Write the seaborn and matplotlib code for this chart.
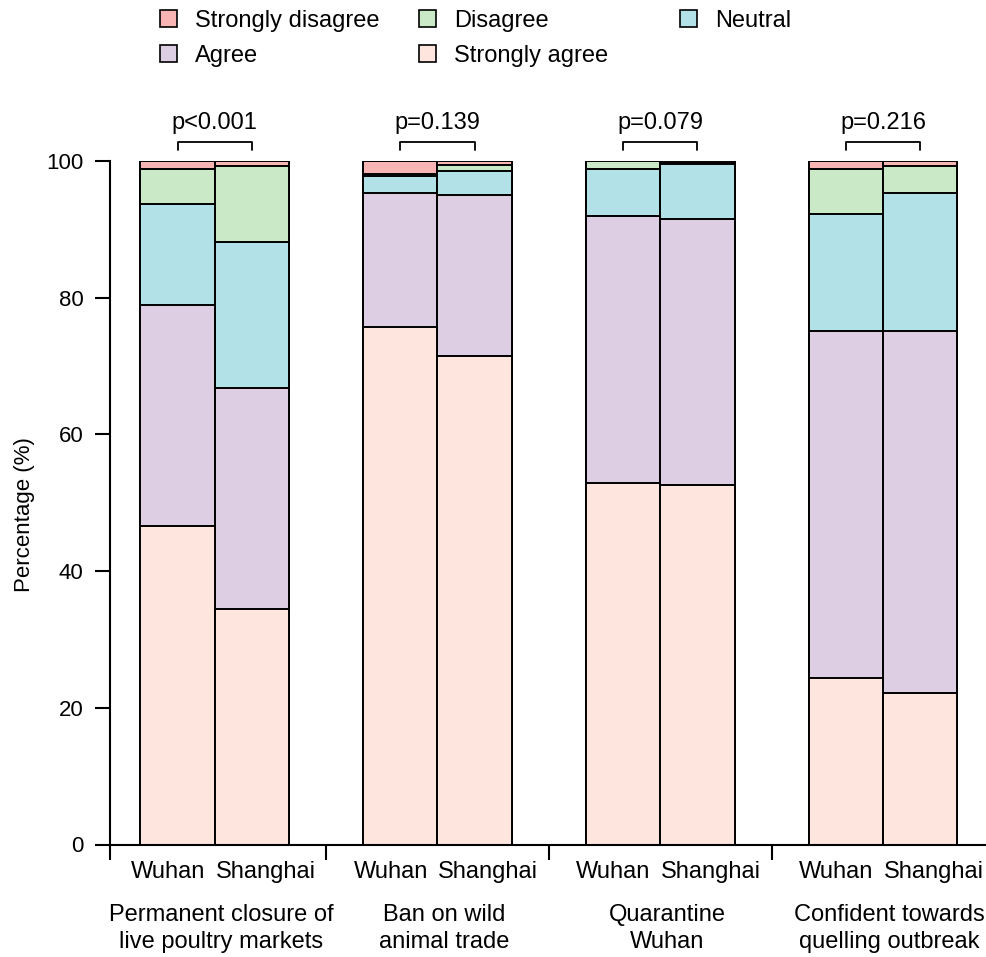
import numpy as np
import pandas as pd
import matplotlib
matplotlib.use("Agg")
import matplotlib.pyplot as plt
import matplotlib.transforms as mtransforms
from matplotlib.patches import Patch
import seaborn as sns

# ---- data ----
topics = ["Permanent closure of\nlive poultry markets", "Ban on wild\nanimal trade",
          "Quarantine\nWuhan", "Confident towards\nquelling outbreak"]
cities = ["Wuhan", "Shanghai"]
levels = ["Strongly agree", "Agree", "Neutral", "Disagree", "Strongly disagree"]
# per bar order: topic1 Wuhan, topic1 Shanghai, topic2 Wuhan, ...
strongly_agree    = [46.6, 34.4, 75.7, 71.4, 52.9, 52.6, 24.4, 22.2]
agree             = [32.4, 32.4, 19.6, 23.6, 39.1, 38.9, 50.7, 52.9]
neutral           = [14.7, 21.4,  2.5,  3.5,  6.8,  8.1, 17.2, 20.2]
disagree          = [ 5.1, 11.1,  0.3,  0.9,  1.2,  0.1,  6.6,  4.0]
strongly_disagree = [ 1.2,  0.7,  1.9,  0.6,  0.0,  0.3,  1.1,  0.7]
p_values = ["p<0.001", "p=0.139", "p=0.079", "p=0.216"]

colors = {"Strongly disagree": "#F9B4B4", "Disagree": "#CAE9C6", "Neutral": "#B3E1E8",
          "Agree": "#DDCEE3", "Strongly agree": "#FEE6DE"}

rows = []
for i in range(len(strongly_agree)):
    g, c = divmod(i, 2)
    pos = 3 * g + 1 + c
    vals = [strongly_agree[i], agree[i], neutral[i], disagree[i], strongly_disagree[i]]
    cum = np.cumsum(vals)
    for lev, v, cu in zip(levels, vals, cum):
        rows.append(dict(pos=pos, topic=topics[g], city=cities[c], level=lev, value=v, cum=cu))
df = pd.DataFrame(rows)

sns.set_style("white")
plt.rcParams["font.family"] = ["Liberation Sans", "DejaVu Sans"]
plt.rcParams["font.size"] = 17
for k in ["text.color", "axes.labelcolor", "xtick.color", "ytick.color", "axes.edgecolor"]:
    plt.rcParams[k] = "black"

W, H = 987, 957
fig = plt.figure(figsize=(W / 100, H / 100), dpi=100)
ax = fig.add_axes([110 / W, (H - 844.5) / H, (W - 110) / W, (844.5 - 161) / H])

# draw cumulative layers from top down
for lev in reversed(levels):
    sub = df[df.level == lev]
    sns.barplot(data=sub, x="pos", y="cum", native_scale=True, color=colors[lev],
                edgecolor="black", linewidth=1.4, width=1.0, saturation=1, ax=ax,
                errorbar=None)

ax.set_ylim(0, 100)
xl = 0.09
ax.set_xlim(xl, 11.9)
ax.set_yticks([0, 20, 40, 60, 80, 100])
ax.tick_params(axis="y", length=11, width=1.5, labelsize=16, pad=8, left=True, direction="out")
ax.set_xticks([xl, 3, 6, 9])
ax.set_xticklabels([])
ax.tick_params(axis="x", length=11, width=1.5, bottom=True, direction="out")
ax.set_xlabel("")
ax.set_ylabel("Percentage (%)", fontsize=16)
ax.yaxis.set_label_coords(-0.085, 0.482)

for s in ["top", "right"]:
    ax.spines[s].set_visible(False)
ax.spines["left"].set_linewidth(1.5)
ax.spines["bottom"].set_linewidth(1.5)
ax.spines["left"].set_bounds(0, 100)

trans = mtransforms.blended_transform_factory(ax.transData, ax.transAxes)
for g, t in enumerate(topics):
    mid = 3 * g + 1.5
    ax.text(mid - 0.13, -0.04, cities[0], transform=trans, ha="right", va="center", fontsize=17)
    ax.text(mid + 0.01, -0.04, cities[1], transform=trans, ha="left", va="center", fontsize=17)
    ax.text(mid + 0.09, -0.087, t, transform=trans, ha="center", va="top",
            fontsize=17, linespacing=1.3)
    # p-value bracket
    x1, x2 = 3 * g + 1, 3 * g + 2
    ax.plot([x1, x1, x2, x2], [101.6, 102.8, 102.8, 101.6], color="black", lw=1.3,
            clip_on=False)
    ax.text(mid, 104.0, p_values[g], ha="center", va="bottom", fontsize=17,
            clip_on=False)

# legend: three columns
cols = [["Strongly disagree", "Agree"], ["Disagree", "Strongly agree"], ["Neutral"]]
xs = [160, 419, 680]
for col, x in zip(cols, xs):
    handles = [Patch(facecolor=colors[l], edgecolor="black", linewidth=1.2) for l in col]
    fig.legend(handles, col, loc="upper left", bbox_to_anchor=(x / W, 1 - 10 / H),
               frameon=False, fontsize=17, handlelength=0.7, handleheight=0.7,
               handletextpad=0.8, labelspacing=0.55, borderpad=0, borderaxespad=0)

fig.savefig("out.png", dpi=100)
